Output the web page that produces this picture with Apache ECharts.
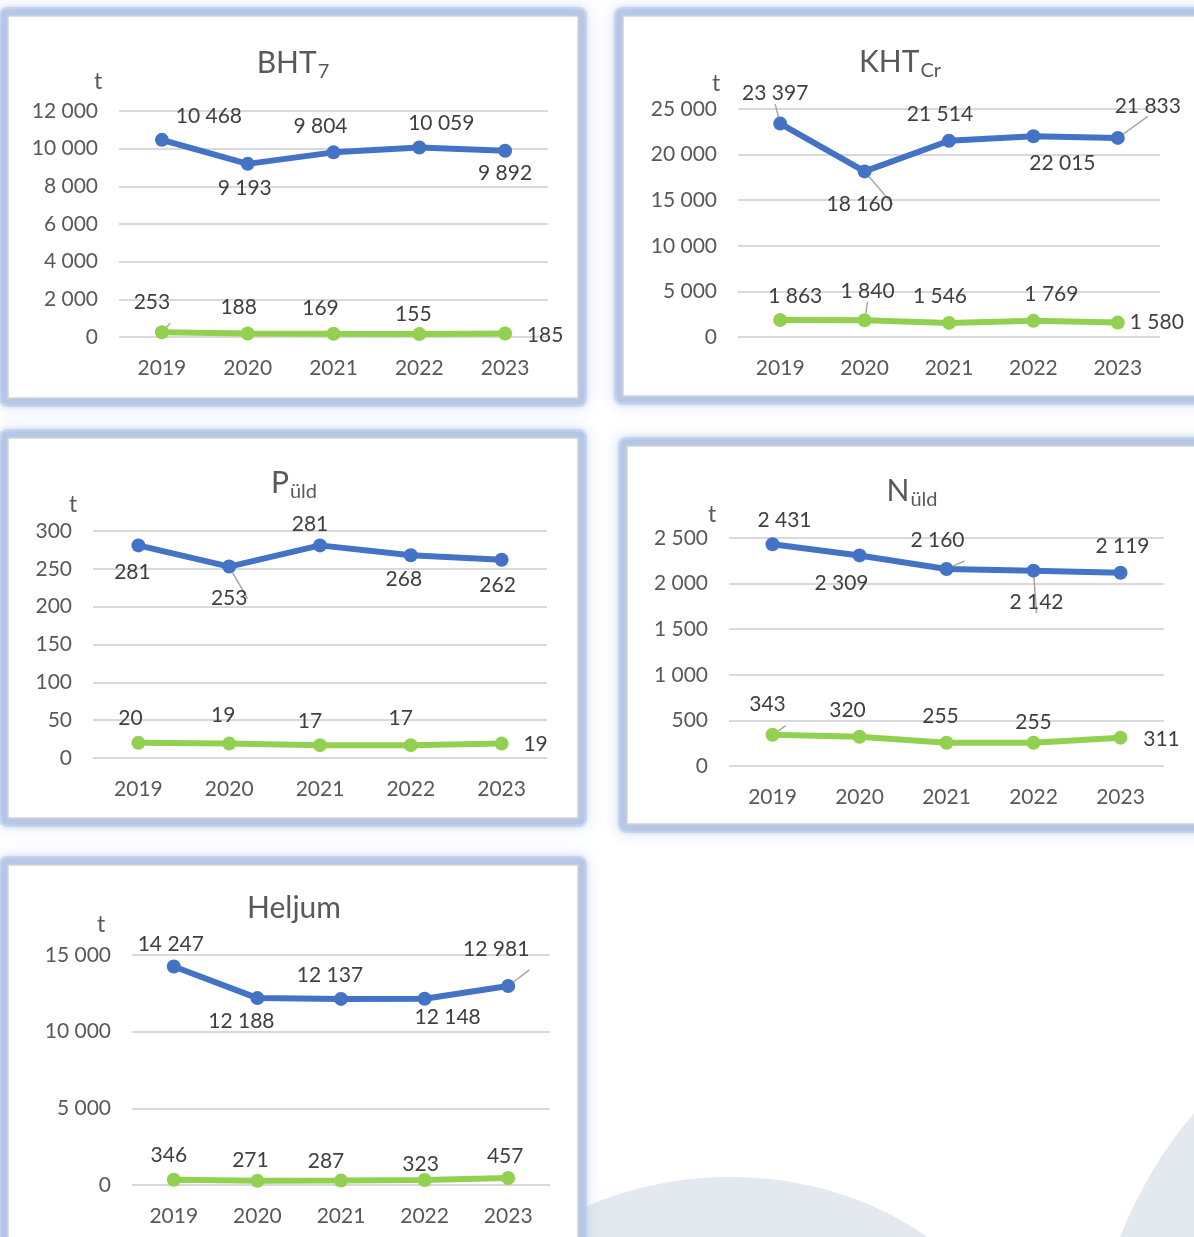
<!DOCTYPE html>
<html>
<head>
<meta charset="utf-8">
<script src="https://cdn.jsdelivr.net/npm/echarts@6/dist/echarts.min.js"></script>
<style>
  html, body { margin: 0; padding: 0; background: #ffffff; }
  #chart { width: 1194px; height: 1237px; }
</style>
</head>
<body>
<div id="chart"></div>
<script>
// Years on every category axis
const years = ['2019', '2020', '2021', '2022', '2023'];

// Loads in tonnes: upper (blue) and lower (green) series per indicator
const bhtHigh = [10468, 9193, 9804, 10059, 9892];
const bhtLow = [253, 188, 169, 155, 185];

const khtHigh = [23397, 18160, 21514, 22015, 21833];
const khtLow = [1863, 1840, 1546, 1769, 1580];

const pHigh = [281, 253, 281, 268, 262];
const pLow = [20, 19, 17, 17, 19];

const nHigh = [2431, 2309, 2160, 2142, 2119];
const nLow = [343, 320, 255, 255, 311];

const heljumHigh = [14247, 12188, 12137, 12148, 12981];
const heljumLow = [346, 271, 287, 323, 457];

// Value-axis ranges
const bhtAxis = { max: 12000, interval: 2000 };
const khtAxis = { max: 25000, interval: 5000 };
const pAxis = { max: 300, interval: 50 };
const nAxis = { max: 2500, interval: 500 };
const heljumAxis = { max: 15000, interval: 5000 };

const BLUE = '#4472c4';
const GREEN = '#92d050';
const TEXT = '#595959';
const FONT = 'Lato, "Open Sans", sans-serif';

const fmt = v => String(v).replace(/\B(?=(\d{3})+(?!\d))/g, ' ');

// Panel layout: frame, plot area, title, unit mark and label placement
const panels = [
  {
    frame: [8, 16, 570, 382], grid: { left: 119, top: 111, width: 429, height: 226 },
    title: '{m|BHT}{s|7}', titlePos: [293, 63], unitPos: [98, 82],
    axis: bhtAxis, high: bhtHigh, low: bhtLow,
    highOff: [[47, -24], [-3, 24], [-13, -26], [22, -24], [0, 23]],
    lowOff: [[-10, -30], [-9, -26], [-13, -26], [-6, -20], [40, 2]],
    highGuide: [], lowGuide: [0]
  },
  {
    frame: [623, 16, 600, 380], grid: { left: 738, top: 109, width: 422, height: 228 },
    title: '{m|KHT}{s|Cr}', titlePos: [900, 62], unitPos: [716, 84],
    axis: khtAxis, high: khtHigh, low: khtLow,
    highOff: [[-5, -30], [-5, 33], [-9, -27], [29, 27], [30, -32]],
    lowOff: [[15, -24], [3, -29], [-9, -27], [18, -27], [39, 0]],
    highGuide: [0, 1, 4], lowGuide: [1]
  },
  {
    frame: [8, 438, 570, 380], grid: { left: 93, top: 531, width: 454, height: 227 },
    title: '{m|P}{s|üld}', titlePos: [294, 483], unitPos: [73, 505],
    axis: pAxis, high: pHigh, low: pLow,
    highOff: [[-6, 27], [0, 32], [-10, -21], [-7, 24], [-4, 25]],
    lowOff: [[-8, -25], [-6, -28], [-10, -24], [-10, -27], [34, 1]],
    highGuide: [1], lowGuide: []
  },
  {
    frame: [627, 446, 600, 378], grid: { left: 729, top: 538, width: 435, height: 228 },
    title: '{m|N}{s|üld}', titlePos: [912, 491], unitPos: [712, 515],
    axis: nAxis, high: nHigh, low: nLow,
    highOff: [[12, -24], [-18, 28], [-9, -29], [3, 32], [2, -27]],
    lowOff: [[-5, -30], [-12, -27], [-6, -27], [0, -21], [41, 2]],
    highGuide: [2, 3], lowGuide: [0]
  },
  {
    frame: [8, 865, 570, 420], grid: { left: 132, top: 955, width: 418, height: 230 },
    title: '{m|Heljum}', titlePos: [294, 908], unitPos: [101, 925],
    axis: heljumAxis, high: heljumHigh, low: heljumLow,
    highOff: [[-3, -22], [-16, 23], [-11, -24], [23, 19], [-12, -37]],
    lowOff: [[-5, -24], [-7, -21], [-15, -19], [-4, -16], [-3, -22]],
    highGuide: [4], lowGuide: []
  }
];

const graphics = [
  // soft shapes in the page background
  { type: 'ellipse', z: -20, silent: true, shape: { cx: 730, cy: 1420, rx: 300, ry: 243 }, style: { fill: '#e3e9ee' } },
  { type: 'ellipse', z: -20, silent: true, shape: { cx: 1400, cy: 1450, rx: 320, ry: 440 }, style: { fill: '#e3e9ee' } }
];

const grids = [], xAxes = [], yAxes = [], series = [];

function buildSeries(values, offsets, guides, color, gi) {
  return {
    type: 'line',
    xAxisIndex: gi, yAxisIndex: gi,
    symbol: 'circle', symbolSize: 14,
    lineStyle: { color: color, width: 6 },
    itemStyle: { color: color },
    label: {
      show: true, position: 'inside', color: '#404040', fontSize: 21, fontFamily: FONT,
      formatter: p => fmt(p.value)
    },
    labelLine: { show: false, lineStyle: { color: '#a6a6a6', width: 1.5 } },
    data: values.map((v, i) => {
      const item = { value: v, label: { offset: offsets[i] } };
      if (guides.includes(i)) item.labelLine = { show: true, lineStyle: { color: '#a6a6a6', width: 1.5 } };
      return item;
    })
  };
}

panels.forEach((p, gi) => {
  const [fx, fy, fw, fh] = p.frame;
  graphics.push(
    // glowing frame
    { type: 'rect', z: -11, silent: true, shape: { x: fx - 9, y: fy - 9, width: fw + 18, height: fh + 18, r: 8 },
      style: { fill: 'rgba(185,203,233,0.55)', shadowBlur: 16, shadowColor: 'rgba(175,196,232,0.9)' } },
    { type: 'rect', z: -10, silent: true, shape: { x: fx - 6, y: fy - 6, width: fw + 12, height: fh + 12, r: 4 },
      style: { fill: '#b5c7e7', shadowBlur: 6, shadowColor: 'rgba(165,188,228,1)' } },
    { type: 'rect', z: -9, silent: true, shape: { x: fx, y: fy, width: fw, height: fh },
      style: { fill: '#ffffff', stroke: '#d2d2d2', lineWidth: 1.5 } },
    { type: 'text', z: 10, silent: true, x: p.titlePos[0], y: p.titlePos[1],
      style: {
        text: p.title, align: 'center', verticalAlign: 'middle', fill: TEXT,
        rich: {
          m: { fontSize: 30, lineHeight: 30, fontFamily: FONT, fill: TEXT },
          s: { fontSize: 20, lineHeight: 20, padding: [18, 0, 0, 1], fontFamily: FONT, fill: TEXT }
        }
      } },
    { type: 'text', z: 10, silent: true, x: p.unitPos[0], y: p.unitPos[1],
      style: { text: 't', align: 'center', verticalAlign: 'middle', fill: TEXT, fontSize: 23, fontFamily: FONT } }
  );

  grids.push(Object.assign({ containLabel: false }, p.grid));
  xAxes.push({
    type: 'category', gridIndex: gi, data: years, boundaryGap: true,
    axisLine: { show: false }, axisTick: { show: false },
    axisLabel: { color: TEXT, fontSize: 21, fontFamily: FONT, margin: 21 }
  });
  yAxes.push({
    type: 'value', gridIndex: gi, min: 0, max: p.axis.max, interval: p.axis.interval,
    axisLine: { show: false }, axisTick: { show: false },
    axisLabel: { color: TEXT, fontSize: 21, fontFamily: FONT, margin: 21, formatter: fmt },
    splitLine: { lineStyle: { color: '#d9d9d9', width: 2 } }
  });
  series.push(buildSeries(p.high, p.highOff, p.highGuide, BLUE, gi));
  series.push(buildSeries(p.low, p.lowOff, p.lowGuide, GREEN, gi));
});

const chart = echarts.init(document.getElementById('chart'), null, { renderer: 'canvas' });
chart.setOption({
  animation: false,
  backgroundColor: '#ffffff',
  graphic: { elements: graphics },
  grid: grids,
  xAxis: xAxes,
  yAxis: yAxes,
  series: series
});
</script>
</body>
</html>
